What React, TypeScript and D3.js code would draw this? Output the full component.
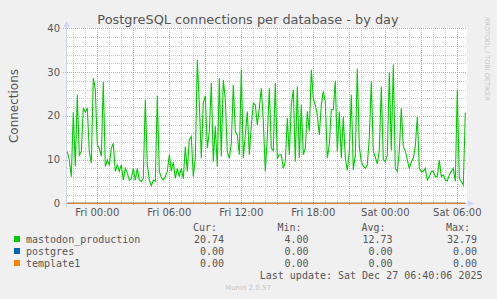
import React from 'react';
import * as d3 from 'd3';

// ---- data ----
const START = new Date(2025, 11, 25, 21, 30); // Thu 21:30
const STEP_MIN = 10;
const mastodonValues = [
  11.8, 9.9, 6.1, 20.8, 8.4, 24.8, 11, 11.8, 21.8, 20.8,
  21.8, 11.8, 9.2, 28.6, 26, 13.4, 12.6, 10.7, 27.7, 8.4,
  9.9, 8.8, 12.6, 13.7, 7.3, 8.8, 7.3, 8.8, 5.3, 8,
  6.9, 5.3, 5.6, 8, 5.3, 8, 5.3, 5, 5.7, 23.7,
  8.8, 5.3, 4.0, 5.3, 5, 24.6, 7.3, 5.9, 5.3, 6.1,
  7.3, 11.1, 7.3, 9.4, 5.7, 8, 6.1, 8, 5.6, 13,
  7.3, 14.5, 15.3, 6.1, 10.3, 32.79, 23, 10.3, 22.9, 24.6,
  12.6, 16.4, 27.5, 9.5, 17.6, 8.4, 28.6, 10.7, 28.2, 23.7,
  11.8, 10.3, 13.7, 27.1, 16.4, 15.6, 11.1, 30.5, 10.3, 15.6,
  21, 11.1, 17.6, 22.9, 22.5, 17.9, 21.8, 26.3, 18.7, 7.3,
  15, 26.3, 12.6, 12, 27.5, 10.3, 11.1, 11.1, 8, 9.5,
  19.5, 11.1, 22.5, 26, 9.5, 26.7, 10.3, 22.5, 11.1, 12.6,
  21, 16.4, 30.5, 24, 22.5, 20.2, 15.6, 22.5, 25.6, 23.3,
  10.3, 13.4, 21.4, 21.4, 28, 11.8, 21, 10.3, 19.8, 10.3,
  7.5, 11.8, 24.8, 7.6, 11, 30.8, 13, 9.5, 8.5, 8,
  8.8, 15, 27.9, 12, 10.5, 9, 12, 26.7, 10, 9.5,
  11, 29.9, 12, 31.7, 8, 7.3, 12, 21.8, 13, 12,
  9.9, 8, 9.5, 10.3, 13, 19.8, 8, 7.3, 7.3, 8,
  5.3, 6.1, 7.3, 7.3, 6.1, 6.1, 9.9, 6.1, 6.5, 5.3,
  5.1, 6.5, 7.3, 8, 5, 26, 5.7, 5, 4.2, 20.74,
];
const postgresValues = mastodonValues.map(() => 0);
const template1Values = mastodonValues.map(() => 0);

const seriesNames = ['mastodon_production', 'postgres', 'template1'];
const seriesColors = ['#00CC00', '#0066B3', '#FF8000'];
const curValues = [20.74, 0, 0];
const minValues = [4.0, 0, 0];
const avgValues = [12.73, 0, 0];
const maxValues = [32.79, 0, 0];
const yTicks = [0, 10, 20, 30, 40];
const title = 'PostgreSQL connections per database - by day';
const yLabel = 'Connections';
const lastUpdate = 'Last update: Sat Dec 27 06:40:06 2025';

const W = 497;
const H = 299;

export default function App() {
  const x = d3
    .scaleTime()
    .domain([new Date(2025, 11, 25, 21, 28, 30), new Date(2025, 11, 27, 6, 48, 30)])
    .range([67, 467]);
  const y = d3.scaleLinear().domain([0, 40]).range([203.3, 28.3]);

  const times = mastodonValues.map((_, i) => new Date(START.getTime() + i * STEP_MIN * 60000));
  const series = [mastodonValues, postgresValues, template1Values];
  const line = d3
    .line<number>()
    .x((_, i) => x(times[i]))
    .y((d) => y(d));

  const [d0, d1] = x.domain();
  const minorX = d3.timeHour.every(1)!.range(d0, d1);
  const majorX = d3.timeHour.every(3)!.range(d0, d1);
  const labelX = d3.timeHour.every(6)!.range(d0, d1);
  const fmt = d3.timeFormat('%a %H:%M');
  const minorY = d3.range(2, 41, 2).filter((v) => v % 10 !== 0);
  const majorY = [10, 20, 30, 40];

  const px = (v: number) => Math.round(v) + 0.5;
  const mono = 'DejaVu Sans Mono, monospace';
  const sans = 'DejaVu Sans, sans-serif';

  const statCols = [
    { head: 'Cur:', vals: curValues, hx: 217, vx: 224 },
    { head: 'Min:', vals: minValues, hx: 301.5, vx: 308.5 },
    { head: 'Avg:', vals: avgValues, hx: 385.5, vx: 392.5 },
    { head: 'Max:', vals: maxValues, hx: 470, vx: 477 },
  ];
  const rowY = [239.5, 251.5, 263.5];

  return (
    <svg
      width={W}
      height={H}
      style={{ position: 'absolute', left: 0, top: 0, display: 'block' }}
      xmlns="http://www.w3.org/2000/svg"
    >
      <rect x={0} y={0} width={W} height={H} fill="#F0F0F0" />
      <rect x={67} y={28} width={400} height={176} fill="#FFFFFF" />

      {/* minor grid */}
      {minorX.map((t, i) => (
        <line key={'mx' + i} x1={px(x(t))} x2={px(x(t))} y1={28} y2={203} stroke="#C8C8C8" strokeDasharray="1,1" />
      ))}
      {minorY.map((v, i) => (
        <line key={'my' + i} x1={67} x2={467} y1={px(y(v))} y2={px(y(v))} stroke="#C8C8C8" strokeDasharray="1,1" />
      ))}
      {/* major grid */}
      {majorX.map((t, i) => (
        <line key={'Mx' + i} x1={px(x(t))} x2={px(x(t))} y1={28} y2={206} stroke="#E6A0A0" strokeDasharray="1,1" />
      ))}
      {majorY.map((v, i) => (
        <line key={'My' + i} x1={63} x2={467} y1={px(y(v))} y2={px(y(v))} stroke="#E6A0A0" strokeDasharray="1,1" />
      ))}

      {/* axes */}
      <line x1={66.5} x2={66.5} y1={24} y2={207} stroke="#CFD6F8" />
      <line x1={63} x2={470} y1={203.5} y2={203.5} stroke="#CFD6F8" />
      <path d="M63.5,27 L66.5,21 L69.5,27 Z" fill="#CFD6F8" />
      <path d="M468,200.5 L474,203.5 L468,206.5 Z" fill="#CFD6F8" />

      {/* series */}
      {series.map((vals, si) => (
        <path key={si} d={line(vals) || ''} fill="none" stroke={seriesColors[si]} strokeWidth={1.1} />
      ))}

      {/* title */}
      <text x={248} y={24} textAnchor="middle" fontFamily={sans} fontSize={12.9} fill="#555555">
        {title}
      </text>

      {/* y label */}
      <text
        transform={`translate(18,${106}) rotate(-90)`}
        textAnchor="middle"
        fontFamily={sans}
        fontSize={12}
        fill="#555555"
      >
        {yLabel}
      </text>

      {/* y tick labels */}
      {yTicks.map((v) => (
        <text key={'yt' + v} x={60} y={y(v) + 3.5} textAnchor="end" fontFamily={sans} fontSize={10} fill="#555555">
          {v}
        </text>
      ))}

      {/* x tick labels */}
      {labelX.map((t, i) => (
        <text key={'xt' + i} x={x(t)} y={216} textAnchor="middle" fontFamily={sans} fontSize={10} fill="#555555">
          {fmt(t)}
        </text>
      ))}

      {/* watermark */}
      <text
        transform="translate(485,17) rotate(90)"
        fontFamily={sans}
        fontSize={6.5}
        fill="#C8C8C8"
      >
        RRDTOOL / TOBI OETIKER
      </text>

      {/* legend */}
      {statCols.map((c) => (
        <text key={c.head} x={c.hx} y={230.5} textAnchor="end" fontFamily={mono} fontSize={10} fill="#555555">
          {c.head}
        </text>
      ))}
      {seriesNames.map((n, i) => (
        <g key={n}>
          <rect x={14} y={rowY[i] - 3.5} width={6} height={6} fill={seriesColors[i]} />
          <text x={26} y={rowY[i] + 3.5} fontFamily={mono} fontSize={10} fill="#555555">
            {n}
          </text>
          {statCols.map((c) => (
            <text key={c.head} x={c.vx} y={rowY[i] + 3.5} textAnchor="end" fontFamily={mono} fontSize={10} fill="#555555">
              {c.vals[i].toFixed(2)}
            </text>
          ))}
        </g>
      ))}
      <text x={482.5} y={279} textAnchor="end" fontFamily={mono} fontSize={10} fill="#555555">
        {lastUpdate}
      </text>
      <text x={248} y={290} textAnchor="middle" fontFamily={sans} fontSize={7} fill="#C8C8C8">
        Munin 2.0.57
      </text>
    </svg>
  );
}
